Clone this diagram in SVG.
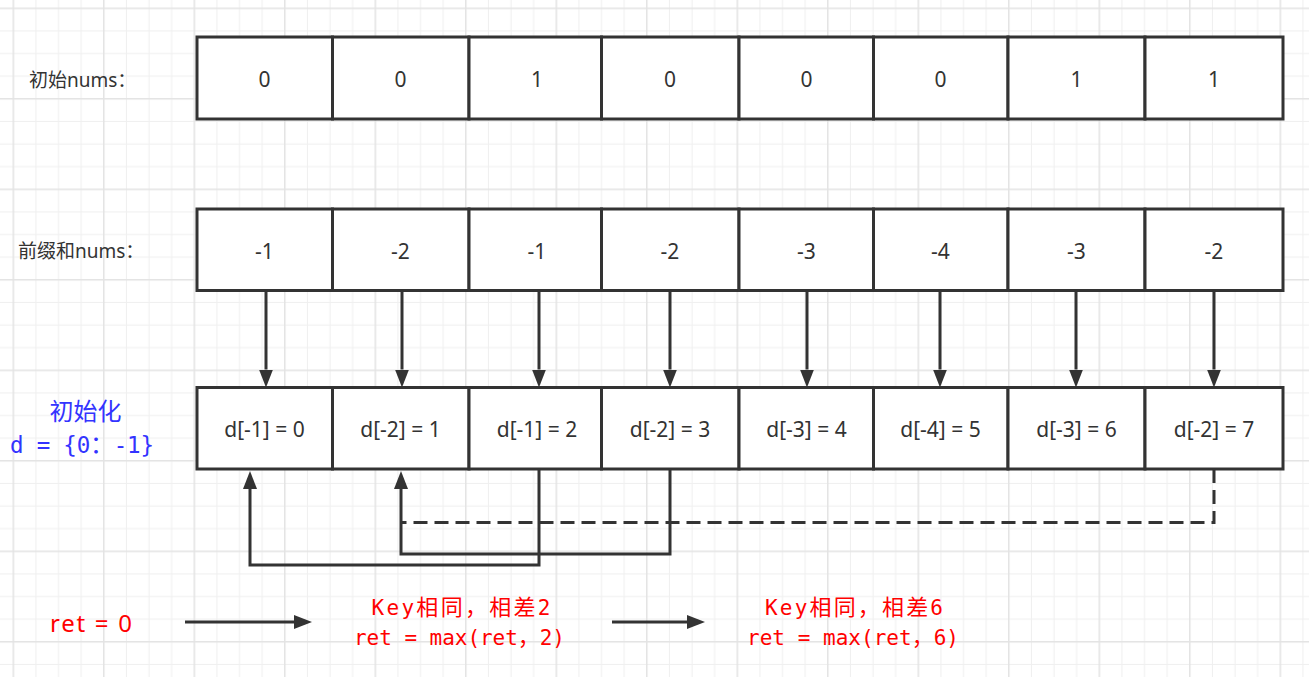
<svg xmlns="http://www.w3.org/2000/svg" width="1309" height="677" viewBox="0 0 1309 677">
<style>
.cell rect{fill:#ffffff;stroke:#333333;stroke-width:3}
.cell text{font-family:"Noto Sans","Noto Sans CJK SC",sans-serif;font-size:21px;fill:#333333;text-anchor:middle}
.lbl{font-family:"Noto Sans","Noto Sans CJK SC",sans-serif;font-size:19px;fill:#333333}
.conn{fill:none;stroke:#333333;stroke-width:3}
.dash{stroke-dasharray:14 7}
.mono{font-family:"DejaVu Sans Mono","Liberation Mono",monospace}
.cjk{font-family:"Noto Sans CJK SC",sans-serif}
.red{fill:#ff0000}
.blue{fill:#3333ff}
</style>
<defs>
<pattern id="grid" x="12.55" y="7.55" width="90.5" height="90.5" patternUnits="userSpaceOnUse">
<path d="M23.375,0V90.5M46,0V90.5M68.625,0V90.5M0,23.375H90.5M0,46H90.5M0,68.625H90.5" stroke="#efefef" stroke-width="1" fill="none"/>
<path d="M0.75,0V90.5M0,0.75H90.5" stroke="#e3e3e3" stroke-width="1.5" fill="none"/>
</pattern>
<marker id="arr" viewBox="0 0 18 14" refX="0" refY="7" markerWidth="18" markerHeight="14" markerUnits="userSpaceOnUse" orient="auto">
<path d="M0,0L18,7L0,14z" fill="#333333"/>
</marker>
</defs>
<rect x="0" y="0" width="1309" height="677" fill="#ffffff"/>
<rect x="0" y="0" width="1309" height="677" fill="url(#grid)"/>

<g id="label-init"><text class="lbl" x="29" y="86.5">初始nums：</text></g>
<g id="label-prefix"><text class="lbl" x="18" y="257.5">前缀和nums：</text></g>

<g id="row1">
<g id="r1c1" class="cell"><rect x="197" y="37" width="135.5" height="82"/><text x="264.5" y="86.5">0</text></g>
<g id="r1c2" class="cell"><rect x="332.5" y="37" width="136.5" height="82"/><text x="400.5" y="86.5">0</text></g>
<g id="r1c3" class="cell"><rect x="469" y="37" width="132.5" height="82"/><text x="537" y="86.5">1</text></g>
<g id="r1c4" class="cell"><rect x="601.5" y="37" width="137.5" height="82"/><text x="670" y="86.5">0</text></g>
<g id="r1c5" class="cell"><rect x="739" y="37" width="134.5" height="82"/><text x="806.5" y="86.5">0</text></g>
<g id="r1c6" class="cell"><rect x="873.5" y="37" width="134.5" height="82"/><text x="940.5" y="86.5">0</text></g>
<g id="r1c7" class="cell"><rect x="1008" y="37" width="137" height="82"/><text x="1076.5" y="86.5">1</text></g>
<g id="r1c8" class="cell"><rect x="1145" y="37" width="138" height="82"/><text x="1214" y="86.5">1</text></g>
</g>

<g id="row2">
<g id="r2c1" class="cell"><rect x="197" y="209" width="135.5" height="81.5"/><text x="264.5" y="258.5">-1</text></g>
<g id="r2c2" class="cell"><rect x="332.5" y="209" width="136.5" height="81.5"/><text x="400.5" y="258.5">-2</text></g>
<g id="r2c3" class="cell"><rect x="469" y="209" width="132.5" height="81.5"/><text x="537" y="258.5">-1</text></g>
<g id="r2c4" class="cell"><rect x="601.5" y="209" width="137.5" height="81.5"/><text x="670" y="258.5">-2</text></g>
<g id="r2c5" class="cell"><rect x="739" y="209" width="134.5" height="81.5"/><text x="806.5" y="258.5">-3</text></g>
<g id="r2c6" class="cell"><rect x="873.5" y="209" width="134.5" height="81.5"/><text x="940.5" y="258.5">-4</text></g>
<g id="r2c7" class="cell"><rect x="1008" y="209" width="137" height="81.5"/><text x="1076.5" y="258.5">-3</text></g>
<g id="r2c8" class="cell"><rect x="1145" y="209" width="138" height="81.5"/><text x="1214" y="258.5">-2</text></g>
</g>

<g id="row3">
<g id="r3c1" class="cell"><rect x="197" y="387.5" width="135.5" height="81.5"/><text x="264.5" y="437">d[-1] = 0</text></g>
<g id="r3c2" class="cell"><rect x="332.5" y="387.5" width="136.5" height="81.5"/><text x="400.5" y="437">d[-2] = 1</text></g>
<g id="r3c3" class="cell"><rect x="469" y="387.5" width="132.5" height="81.5"/><text x="537" y="437">d[-1] = 2</text></g>
<g id="r3c4" class="cell"><rect x="601.5" y="387.5" width="137.5" height="81.5"/><text x="670" y="437">d[-2] = 3</text></g>
<g id="r3c5" class="cell"><rect x="739" y="387.5" width="134.5" height="81.5"/><text x="806.5" y="437">d[-3] = 4</text></g>
<g id="r3c6" class="cell"><rect x="873.5" y="387.5" width="134.5" height="81.5"/><text x="940.5" y="437">d[-4] = 5</text></g>
<g id="r3c7" class="cell"><rect x="1008" y="387.5" width="137" height="81.5"/><text x="1076.5" y="437">d[-3] = 6</text></g>
<g id="r3c8" class="cell"><rect x="1145" y="387.5" width="138" height="81.5"/><text x="1214" y="437">d[-2] = 7</text></g>
</g>

<g id="init-note">
<text class="blue cjk" x="85.5" y="420" font-size="24" text-anchor="middle">初始化</text>
<text class="blue mono" x="82" y="453" font-size="22.5" text-anchor="middle" textLength="144" lengthAdjust="spacing">d = {0<tspan class="cjk" font-size="24">：</tspan>-1}</text>
</g>

<g id="ret0"><text x="50" y="631.7" font-family="Noto Sans, sans-serif" font-size="24" class="red" textLength="82" lengthAdjust="spacing">ret = 0</text></g>

<g id="step1">
<text class="red mono" x="461" y="614.5" font-size="21" text-anchor="middle" textLength="179" lengthAdjust="spacing">Key<tspan class="cjk" font-size="22">相同，相差</tspan>2</text>
<text class="red mono" x="459.5" y="645" font-size="21" text-anchor="middle" textLength="211" lengthAdjust="spacing">ret = max(ret<tspan class="cjk" font-size="22">，</tspan>2)</text>
</g>
<g id="step2">
<text class="red mono" x="854" y="614.5" font-size="21" text-anchor="middle" textLength="178" lengthAdjust="spacing">Key<tspan class="cjk" font-size="22">相同，相差</tspan>6</text>
<text class="red mono" x="853" y="645" font-size="21" text-anchor="middle" textLength="212" lengthAdjust="spacing">ret = max(ret<tspan class="cjk" font-size="22">，</tspan>6)</text>
</g>

<g id="connectors">
<path class="conn" d="M266,290.5V369.5" marker-end="url(#arr)"/>
<path class="conn" d="M402,290.5V369.5" marker-end="url(#arr)"/>
<path class="conn" d="M539,290.5V369.5" marker-end="url(#arr)"/>
<path class="conn" d="M670,290.5V369.5" marker-end="url(#arr)"/>
<path class="conn" d="M807,290.5V369.5" marker-end="url(#arr)"/>
<path class="conn" d="M940,290.5V369.5" marker-end="url(#arr)"/>
<path class="conn" d="M1076,290.5V369.5" marker-end="url(#arr)"/>
<path class="conn" d="M1214,290.5V369.5" marker-end="url(#arr)"/>
<path class="conn" d="M539,469V565H250V489" marker-end="url(#arr)"/>
<path class="conn" d="M670,469V554H401V489" marker-end="url(#arr)"/>
<path class="conn dash" d="M1214,469V522.5H402"/>
<path class="conn" d="M185,622H294" marker-end="url(#arr)"/>
<path class="conn" d="M612,622H687" marker-end="url(#arr)"/>
</g>
</svg>
